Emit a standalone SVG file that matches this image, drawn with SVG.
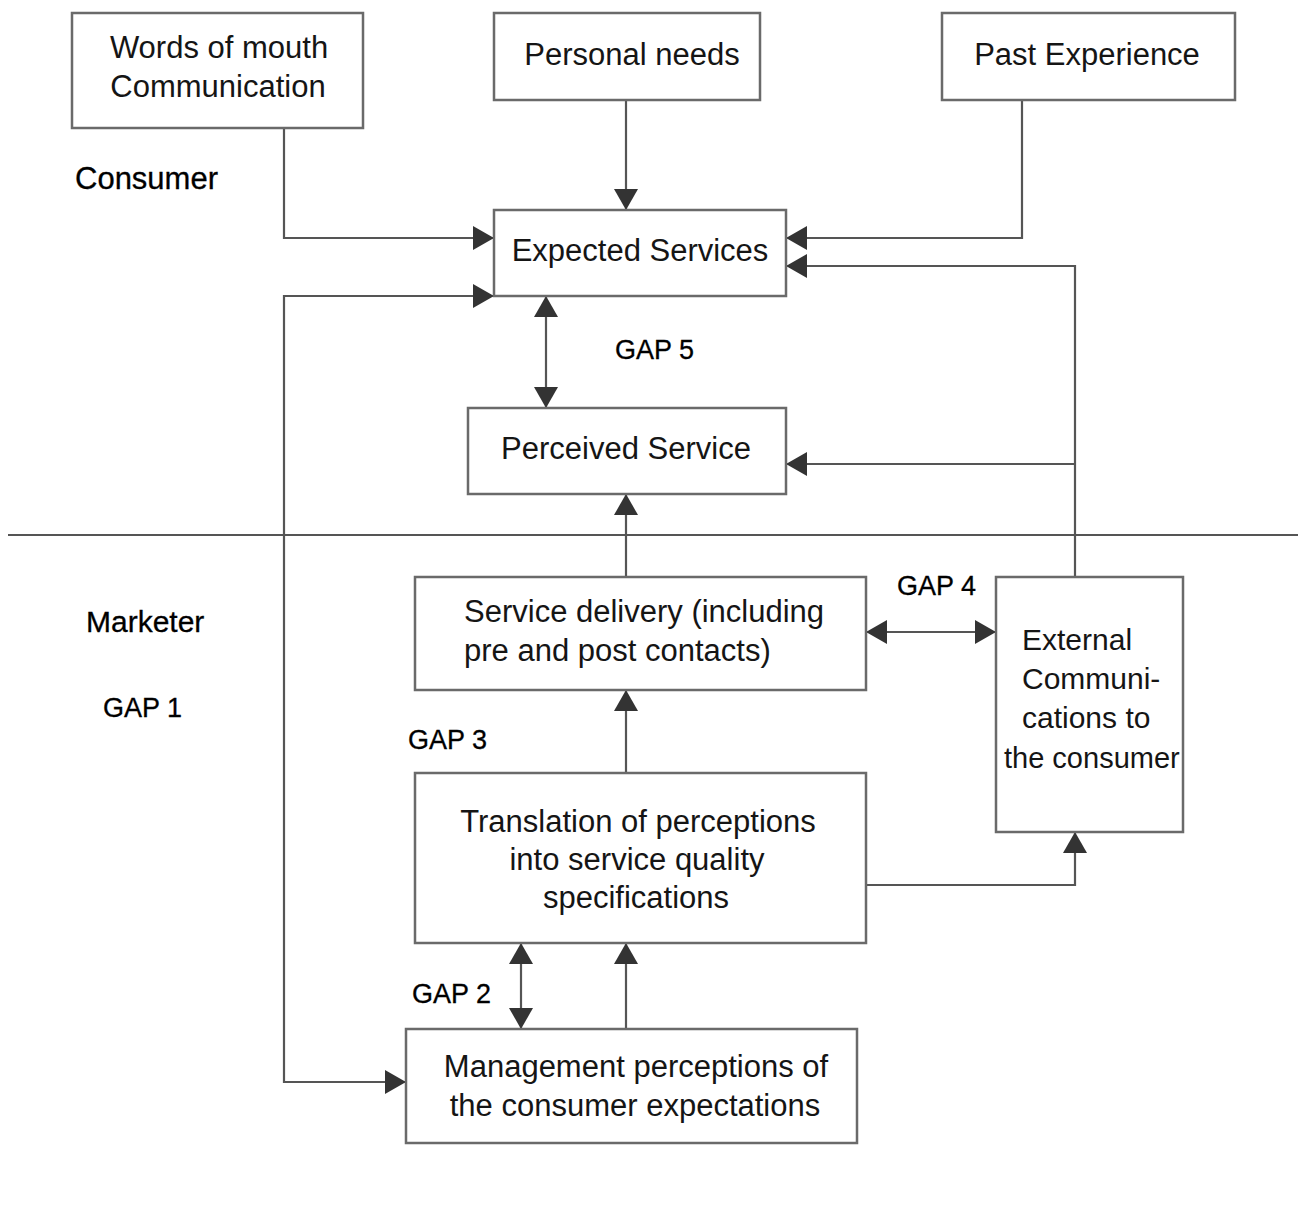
<svg xmlns="http://www.w3.org/2000/svg" width="1303" height="1224" viewBox="0 0 1303 1224">
  <style>
    .box { fill: #ffffff; stroke: #6a6a6a; stroke-width: 2.5; }
    .txt { font-family: "Liberation Sans", Arial, sans-serif; font-size: 31px; fill: #151515; }
    .lbl { font-family: "Liberation Sans", Arial, sans-serif; font-size: 27px; fill: #000000; stroke: #000000; stroke-width: 0.3; }
    .side { font-size: 31px; }
    .narrow { font-size: 30px; }
    .wire { fill: none; stroke: #555555; stroke-width: 2.2; }
    .mid { text-anchor: middle; }
  </style>
  <defs>
    <marker id="arrow" markerUnits="userSpaceOnUse" markerWidth="22" markerHeight="24" refX="21" refY="12" orient="auto-start-reverse">
      <path d="M0,0 L21,12 L0,24 Z" fill="#333333"/>
    </marker>
  </defs>

  <rect width="1303" height="1224" fill="#ffffff"/>

  <!-- consumer / marketer divider -->
  <line x1="8" y1="535" x2="1298" y2="535" stroke="#555555" stroke-width="2"/>

  <!-- side labels -->
  <text class="lbl side" x="75" y="189">Consumer</text>
  <text class="lbl side" x="86" y="632" style="font-size:30px">Marketer</text>
  <text class="lbl" x="103" y="717">GAP 1</text>
  <text class="lbl" x="615" y="359">GAP 5</text>
  <text class="lbl" x="897" y="595">GAP 4</text>
  <text class="lbl" x="408" y="749">GAP 3</text>
  <text class="lbl" x="412" y="1003">GAP 2</text>

  <!-- connectors -->
  <g id="connectors">
    <polyline class="wire" points="284,128 284,238 494,238" marker-end="url(#arrow)"/>
    <line class="wire" x1="626" y1="100" x2="626" y2="210" marker-end="url(#arrow)"/>
    <polyline class="wire" points="1022,100 1022,238 786,238" marker-end="url(#arrow)"/>
    <polyline class="wire" points="1075,577 1075,266 786,266" marker-end="url(#arrow)"/>
    <line class="wire" x1="1075" y1="464" x2="786" y2="464" marker-end="url(#arrow)"/>
    <line class="wire" x1="546" y1="296" x2="546" y2="408" marker-start="url(#arrow)" marker-end="url(#arrow)"/>
    <line class="wire" x1="626" y1="577" x2="626" y2="494" marker-end="url(#arrow)"/>
    <polyline class="wire" points="494,296 284,296 284,1082 406,1082" marker-start="url(#arrow)" marker-end="url(#arrow)"/>
    <line class="wire" x1="866" y1="632" x2="996" y2="632" marker-start="url(#arrow)" marker-end="url(#arrow)"/>
    <line class="wire" x1="626" y1="773" x2="626" y2="690" marker-end="url(#arrow)"/>
    <polyline class="wire" points="866,885 1075,885 1075,832" marker-end="url(#arrow)"/>
    <line class="wire" x1="521" y1="943" x2="521" y2="1029" marker-start="url(#arrow)" marker-end="url(#arrow)"/>
    <line class="wire" x1="626" y1="1029" x2="626" y2="943" marker-end="url(#arrow)"/>
  </g>

  <!-- nodes -->
  <g id="word-of-mouth">
    <rect class="box" x="72" y="13" width="291" height="115"/>
    <text class="txt mid" x="219" y="58">Words of mouth</text>
    <text class="txt mid" x="218" y="97">Communication</text>
  </g>
  <g id="personal-needs">
    <rect class="box" x="494" y="13" width="266" height="87"/>
    <text class="txt mid" x="632" y="65">Personal needs</text>
  </g>
  <g id="past-experience">
    <rect class="box" x="942" y="13" width="293" height="87"/>
    <text class="txt mid" x="1087" y="65">Past Experience</text>
  </g>
  <g id="expected-services">
    <rect class="box" x="494" y="210" width="292" height="86"/>
    <text class="txt mid" x="640" y="261">Expected Services</text>
  </g>
  <g id="perceived-service">
    <rect class="box" x="468" y="408" width="318" height="86"/>
    <text class="txt mid" x="626" y="459">Perceived Service</text>
  </g>
  <g id="service-delivery">
    <rect class="box" x="415" y="577" width="451" height="113"/>
    <text class="txt" x="464" y="622">Service delivery (including</text>
    <text class="txt" x="464" y="661">pre and post contacts)</text>
  </g>
  <g id="external-communications">
    <rect class="box" x="996" y="577" width="187" height="255"/>
    <text class="txt narrow" x="1022" y="650">External</text>
    <text class="txt narrow" x="1022" y="689">Communi-</text>
    <text class="txt narrow" x="1022" y="728">cations to</text>
    <text class="txt narrow" x="1004" y="768" style="font-size:29px">the consumer</text>
  </g>
  <g id="specifications">
    <rect class="box" x="415" y="773" width="451" height="170"/>
    <text class="txt mid" x="638" y="832">Translation of perceptions</text>
    <text class="txt mid" x="637" y="870">into service quality</text>
    <text class="txt mid" x="636" y="908">specifications</text>
  </g>
  <g id="management-perceptions">
    <rect class="box" x="406" y="1029" width="451" height="114"/>
    <text class="txt mid" x="636" y="1077">Management perceptions of</text>
    <text class="txt mid" x="635" y="1116">the consumer expectations</text>
  </g>
</svg>
